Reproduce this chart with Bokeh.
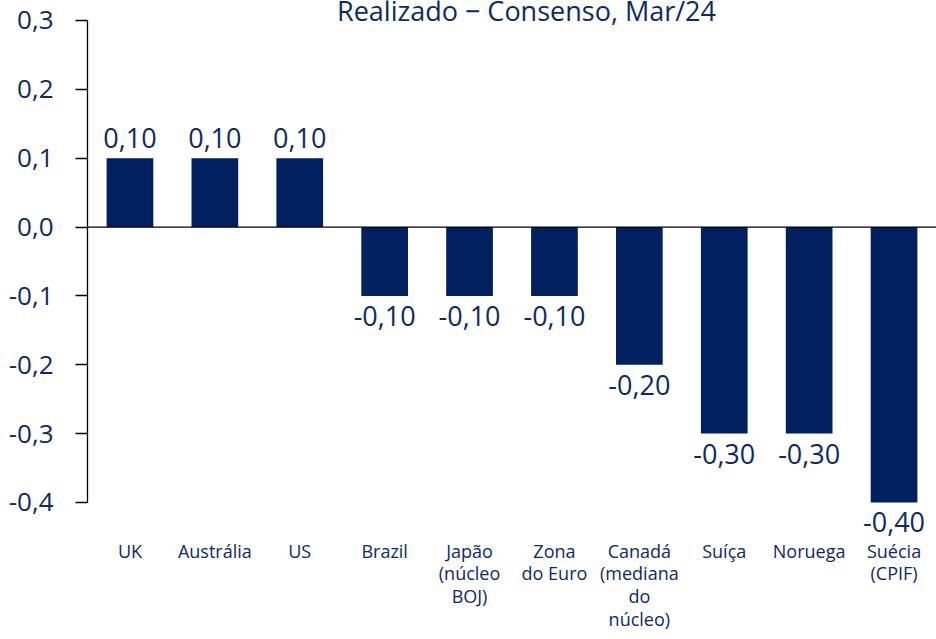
from bokeh.plotting import figure
from bokeh.models import (FactorRange, Range1d, ColumnDataSource, FixedTicker,
                          CustomJSTickFormatter, Span, Label, LabelSet)
from bokeh.core.properties import value
from bokeh.embed import file_html
from bokeh.resources import INLINE

categories = ["UK", "Austrália", "US", "Brazil", "Japão\n(núcleo\nBOJ)",
              "Zona\ndo Euro", "Canadá\n(mediana\ndo\nnúcleo)", "Suíça",
              "Noruega", "Suécia\n(CPIF)"]
values = [0.10, 0.10, 0.10, -0.10, -0.10, -0.10, -0.20, -0.30, -0.30, -0.40]
y_ticks = [-0.4, -0.3, -0.2, -0.1, 0.0, 0.1, 0.2, 0.3]
title_text = "Realizado − Consenso, Mar/24"

NAVY = "#002060"
TXT = "#0D2A63"
FONT = "Open Sans"

labels = [f"{v:.2f}".replace(".", ",") for v in values]
offsets = [10 if v >= 0 else -30 for v in values]

src = ColumnDataSource(dict(cat=categories, val=values, lab=labels, off=offsets))

p = figure(x_range=FactorRange(factors=categories, range_padding=0),
           y_range=Range1d(-0.4494, 0.329),
           width=936, height=639, output_backend="svg", toolbar_location=None,
           min_border_left=87, min_border_right=0, min_border_top=0,
           min_border_bottom=103)
p.outline_line_color = None
p.xgrid.grid_line_color = None
p.ygrid.grid_line_color = None
p.background_fill_color = "white"
p.border_fill_color = "white"

p.vbar(x="cat", top="val", bottom=0, width=0.55, source=src,
       fill_color=NAVY, line_color=None)

p.add_layout(LabelSet(x="cat", y="val", text="lab", source=src,
                      text_align="center", text_baseline="alphabetic",
                      y_offset="off", text_color=TXT, text_font=value(FONT),
                      text_font_size="27px"))

p.add_layout(Span(location=0, dimension="width", line_color="black",
                  line_width=1.3))

# y axis
ya = p.yaxis[0]
ya.bounds = (-0.4, 0.3)
ya.ticker = FixedTicker(ticks=y_ticks)
ya.formatter = CustomJSTickFormatter(code="return tick.toFixed(1).replace('.', ',');")
ya.axis_line_color = "black"
ya.axis_line_width = 1.3
ya.major_tick_line_color = "black"
ya.major_tick_line_width = 1.3
ya.major_tick_out = 12
ya.major_tick_in = 0
ya.minor_tick_line_color = None
ya.major_label_standoff = 22
ya.major_label_text_color = TXT
ya.major_label_text_font = FONT
ya.major_label_text_font_size = "26px"

# x axis
xa = p.xaxis[0]
xa.axis_line_color = None
xa.major_tick_line_color = None
xa.minor_tick_line_color = None
xa.major_label_standoff = -4
xa.major_label_orientation = "horizontal"
xa.major_label_text_color = TXT
xa.major_label_text_font = FONT
xa.major_label_text_font_size = "18px"
xa.major_label_text_line_height = 0.95

p.add_layout(Label(x=439, y=0.314, x_units="screen", y_units="data",
                   text=title_text, text_align="center",
                   text_baseline="alphabetic", text_color=TXT,
                   text_font=FONT, text_font_size="27px"))

open("out.html", "w").write(file_html(p, INLINE))
